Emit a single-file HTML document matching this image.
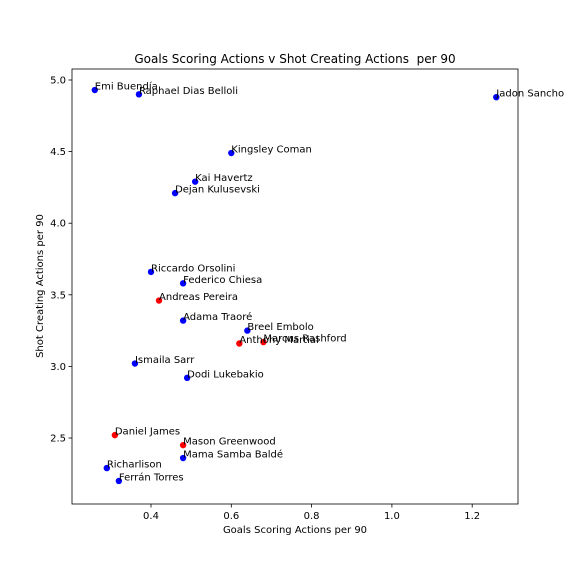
<!DOCTYPE html>
<html><head><meta charset="utf-8"><style>
body{margin:0;background:#fff;}
svg{display:block;font-family:"DejaVu Sans","Liberation Sans",sans-serif;}
</style></head><body>
<svg id="chart" width="576" height="576" viewBox="0 0 576 576">
<rect width="576" height="576" fill="#fff"/>
<text x="295" y="63" font-size="12" text-anchor="middle" style="white-space:pre">Goals Scoring Actions v Shot Creating Actions  per 90</text>
<g id="axes"></g>
<g id="points"></g>
<text x="295" y="533" font-size="10" text-anchor="middle">Goals Scoring Actions per 90</text>
<text x="0" y="0" font-size="10" text-anchor="middle" transform="translate(43,286) rotate(-90)">Shot Creating Actions per 90</text>
</svg>
<script>
const names=["Emi Buendía","Raphael Dias Belloli","Jadon Sancho","Kingsley Coman","Kai Havertz","Dejan Kulusevski","Riccardo Orsolini","Federico Chiesa","Andreas Pereira","Adama Traoré","Breel Embolo","Marcus Rashford","Anthony Martial","Ismaila Sarr","Dodi Lukebakio","Daniel James","Mason Greenwood","Mama Samba Baldé","Richarlison","Ferrán Torres"];
const gsa=[0.26,0.37,1.26,0.60,0.51,0.46,0.40,0.48,0.42,0.48,0.64,0.68,0.62,0.36,0.49,0.31,0.48,0.48,0.29,0.32];
const sca=[4.93,4.90,4.88,4.49,4.29,4.21,3.66,3.58,3.46,3.32,3.25,3.17,3.16,3.02,2.92,2.52,2.45,2.36,2.29,2.20];
const isRed=[0,0,0,0,0,0,0,0,1,0,0,1,1,0,0,1,1,0,0,0];
const xTicks=[0.4,0.6,0.8,1.0,1.2];
const yTicks=[2.5,3.0,3.5,4.0,4.5,5.0];
const NS="http://www.w3.org/2000/svg";
const L=72,R=518,T=69,B=504;
const xs=v=>151+(v-0.4)*401.5;
const ys=v=>80+(5-v)*143.2;
function mk(tag,attrs,parent){const e=document.createElementNS(NS,tag);for(const k in attrs)e.setAttribute(k,attrs[k]);parent.appendChild(e);return e;}
const ax=document.getElementById('axes');
const frame=mk('rect',{x:L,y:T,width:R-L,height:B-T,fill:'none',stroke:'#000','stroke-width':0.8},ax);


xTicks.forEach(t=>{const x=xs(t);
 mk('line',{x1:x,x2:x,y1:B,y2:B+3.5,stroke:'#000','stroke-width':0.8},ax);
 const tx=mk('text',{x:x,y:B+15,'font-size':10,'text-anchor':'middle'},ax);tx.textContent=t.toFixed(1);
 
 });
yTicks.forEach(t=>{const y=ys(t);
 mk('line',{x1:L,x2:L-3.5,y1:y,y2:y,stroke:'#000','stroke-width':0.8},ax);
 const tx=mk('text',{x:L-6,y:y+3.5,'font-size':10,'text-anchor':'end'},ax);tx.textContent=t.toFixed(1);
 
 });
const pg=document.getElementById('points');
names.forEach((n,i)=>{const x=xs(gsa[i]),y=ys(sca[i]);
 const c=mk('circle',{cx:x,cy:y,r:3.2,fill:isRed[i]?'#ff0000':'#0000ff'},pg);
 
 
 const t=mk('text',{x:x,y:y-0.5,'font-size':10},pg);t.textContent=n;
 
 });
</script>
</body></html>
